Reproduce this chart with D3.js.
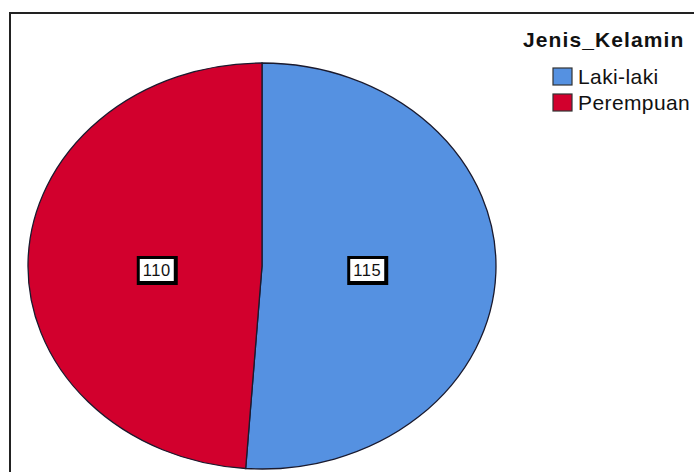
<!DOCTYPE html>
<html>
<head>
<meta charset="utf-8">
<script src="https://cdn.jsdelivr.net/npm/d3@7"></script>
<style>
  body { margin: 0; background: #fff; }
  svg { display: block; font-family: Arial, "Liberation Sans", sans-serif; }
</style>
</head>
<body>
<svg width="694" height="472"></svg>
<script>
var categories = ["Laki-laki", "Perempuan"];
var counts = [115, 110];
var colors = ["#5591e1", "#d2002d"];
var legendTitle = "Jenis_Kelamin";

var svg = d3.select("svg");

// outer frame (runs off the right and bottom edges)
svg.append("rect")
    .attr("x", 10).attr("y", 13)
    .attr("width", 700).attr("height", 480)
    .attr("fill", "#fff")
    .attr("stroke", "#222")
    .attr("stroke-width", 2);

var cx = 262, cy = 266,
    rx = 234, ry = 203;

var data = categories.map(function (c, i) { return { cat: c, n: counts[i] }; });

var pie = d3.pie().sort(null).value(function (d) { return d.n; });
var arcs = pie(data);

var arc = d3.arc().innerRadius(0).outerRadius(ry);
var labelArc = d3.arc().innerRadius(0).outerRadius(ry * 0.9);

var g = svg.append("g")
    .attr("transform", "translate(" + cx + "," + cy + ") scale(" + (rx / ry) + ",1)");

g.selectAll("path")
    .data(arcs)
    .enter().append("path")
    .attr("d", arc)
    .attr("fill", function (d, i) { return colors[i]; })
    .attr("stroke", "#1a1a2e")
    .attr("stroke-width", 1.3)
    .attr("vector-effect", "non-scaling-stroke");

// value labels
var lab = svg.selectAll(".lab")
    .data(arcs)
    .enter().append("g")
    .attr("class", "lab")
    .attr("transform", function (d) {
        var c = labelArc.centroid(d);
        return "translate(" + (cx + c[0] * rx / ry) + "," + (cy + 4) + ")";
    });

lab.append("rect")
    .attr("x", -20).attr("y", -14)
    .attr("width", 41).attr("height", 29)
    .attr("fill", "#000");
lab.append("rect")
    .attr("x", -17).attr("y", -11)
    .attr("width", 34).attr("height", 22)
    .attr("fill", "#fff");
lab.append("text")
    .attr("text-anchor", "middle")
    .attr("y", 6)
    .attr("font-size", "16.5px")
    .attr("letter-spacing", "0.5px")
    .attr("fill", "#111")
    .text(function (d) { return d.data.n; });

// legend
svg.append("text")
    .attr("x", 523).attr("y", 47)
    .attr("font-size", "21px")
    .attr("font-weight", "bold")
    .attr("letter-spacing", "1.1px")
    .attr("fill", "#111")
    .text(legendTitle);

var leg = svg.selectAll(".leg")
    .data(categories)
    .enter().append("g")
    .attr("class", "leg")
    .attr("transform", function (d, i) { return "translate(553," + (68 + i * 26) + ")"; });

leg.append("rect")
    .attr("width", 19).attr("height", 17)
    .attr("fill", function (d, i) { return colors[i]; })
    .attr("stroke", "#333")
    .attr("stroke-width", 1.2);

leg.append("text")
    .attr("x", 25).attr("y", 16)
    .attr("font-size", "21px")
    .attr("letter-spacing", "0.4px")
    .attr("fill", "#111")
    .text(function (d) { return d; });
</script>
</body>
</html>
